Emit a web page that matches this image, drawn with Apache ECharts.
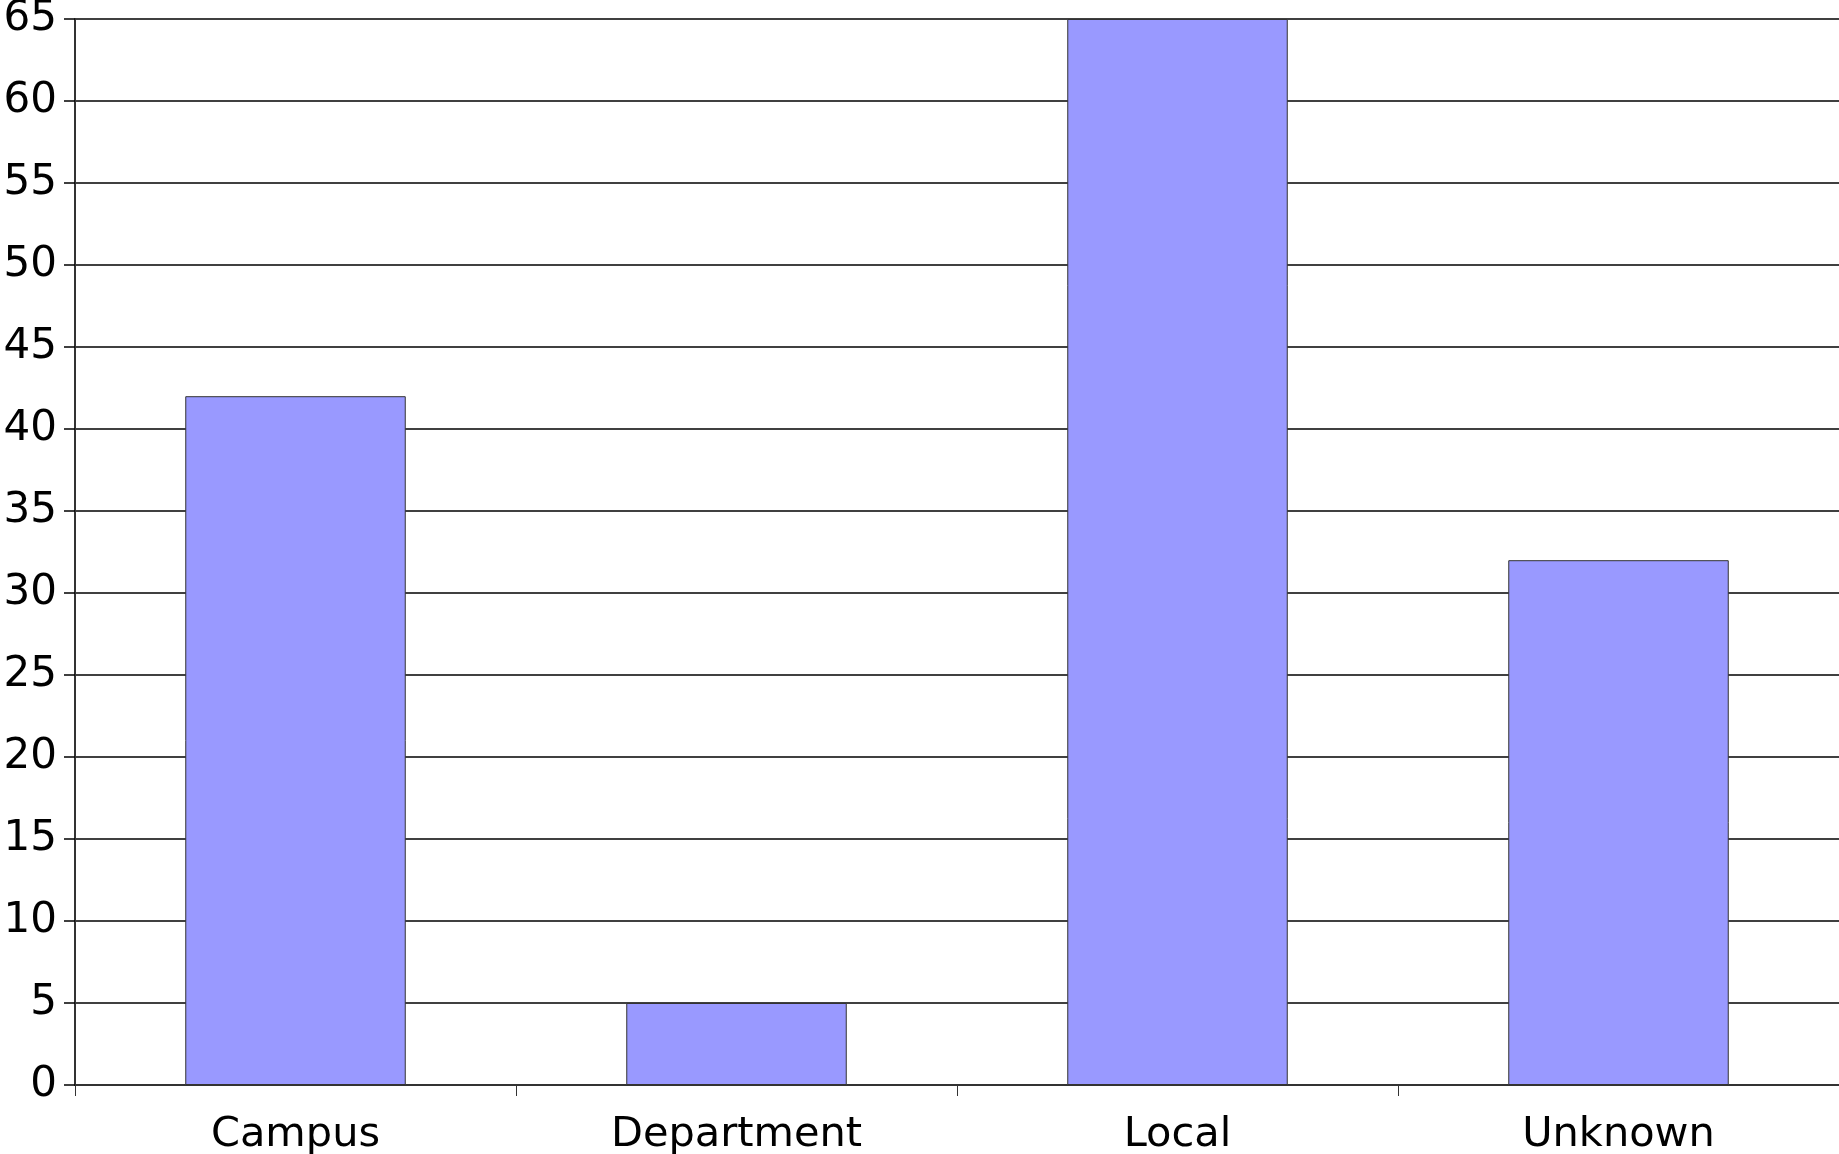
<!DOCTYPE html>
<html><head><meta charset="utf-8">
<script src="https://cdn.jsdelivr.net/npm/echarts@6/dist/echarts.min.js"></script>
<style>html,body{margin:0;padding:0;background:#fff}#c{width:1839px;height:1154px}</style>
</head><body><div id="c"></div>
<script>
const categories = ["Campus", "Department", "Local", "Unknown"];
const values = [42, 5, 65, 32];

const chart = echarts.init(document.getElementById('c'), null, {renderer: 'canvas'});
chart.setOption({
  animation: false,
  backgroundColor: '#ffffff',
  grid: {left: 75, right: 0, top: 19, bottom: 69, containLabel: false, outerBoundsMode: 'none'},
  xAxis: {
    type: 'category',
    data: categories,
    axisLine: {show: true, lineStyle: {color: '#333333', width: 2}},
    axisTick: {show: true, length: 11, lineStyle: {color: '#333333', width: 1}, alignWithLabel: false},
    axisLabel: {color: '#000', fontFamily: 'DejaVu Sans', fontSize: 41.5, margin: 29},
    splitLine: {show: false}
  },
  yAxis: {
    type: 'value',
    min: 0, max: 65, interval: 5,
    axisLine: {show: true, lineStyle: {color: '#333333', width: 2}},
    axisTick: {show: true, length: 11, lineStyle: {color: '#000', width: 1.5}},
    axisLabel: {color: '#000', fontFamily: 'DejaVu Sans', fontSize: 42, margin: 18},
    splitLine: {show: true, lineStyle: {color: '#000', width: 1.5}}
  },
  series: [{
    type: 'bar',
    data: values,
    barWidth: '50%',
    itemStyle: {color: '#9999ff', borderColor: '#333333', borderWidth: 1}
  }]
});
</script></body></html>
